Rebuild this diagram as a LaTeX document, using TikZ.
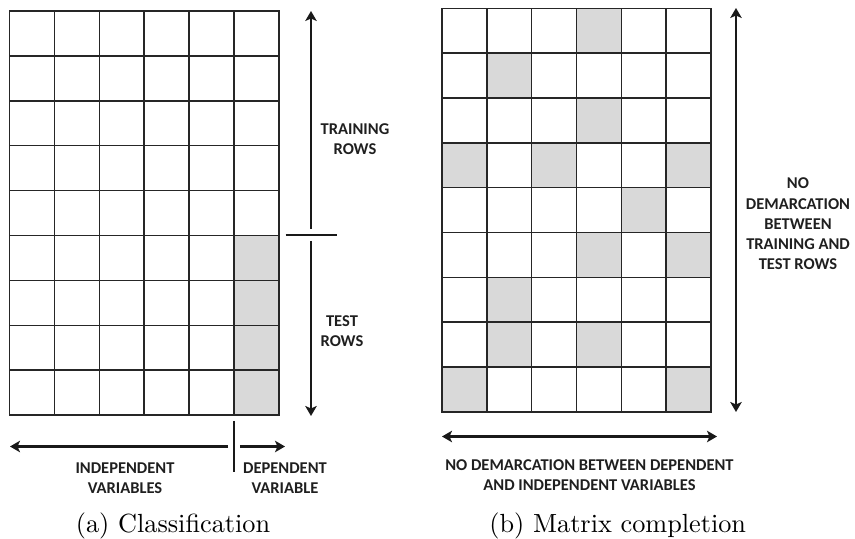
\documentclass[tikz,border=0pt]{standalone}
\usepackage{fontspec}
\newfontfamily\lblfont{Carlito}
\usetikzlibrary{arrows.meta}

\tikzset{
  cellbox/.style={draw=black!85, line width=0.6pt},
  hit/.style={fill=gray!30},
  bar/.style={line width=0.85pt, black!90},
  tip/.style={-{Stealth[length=4pt,width=4.6pt,inset=1pt]}},
  bothtips/.style={{Stealth[length=4pt,width=4.6pt,inset=1pt]}-{Stealth[length=4pt,width=4.6pt,inset=1pt]}},
  lbl/.style={font=\lblfont\bfseries\fontsize{6.6}{8.1}\selectfont, align=center, text=black!88, inner sep=0pt},
  subcap/.style={font=\fontsize{10.5}{12}\selectfont, inner sep=0pt},
}

\begin{document}
\begin{tikzpicture}[x=0.4pt, y=-0.4pt]

\useasboundingbox (0,0) rectangle (855,539);

\def\cw{44.9}
\def\cwb{44.83}

%% --- (a) classification grid ---
\foreach \r in {5,...,8} {
  \fill[hit] ({9.5+5*\cw},{11+\r*\cw}) rectangle +(\cw,\cw);
}
\foreach \r in {0,...,8} \foreach \c in {0,...,5} {
  \draw[cellbox] ({9.5+\c*\cw},{11+\r*\cw}) rectangle +(\cw,\cw);
}

% row arrows
\coordinate (trtop) at (311,11);
\coordinate (trbot) at (311,229);
\coordinate (tstop) at (311,241);
\coordinate (tsbot) at (311,416);
\coordinate (rowcutL) at (285.5,235);
\coordinate (rowcutR) at (336.5,235);
\draw[bar, tip] (trbot) -- (trtop);
\draw[bar, tip] (tstop) -- (tsbot);
\draw[bar] (rowcutL) -- (rowcutR);
\node[lbl] (trainlbl) at (355,139) {TRAINING\\ROWS};
\node[lbl] (testlbl) at (342,331) {TEST\\ROWS};

% column arrows
\coordinate (indL) at (10,446.5);
\coordinate (indR) at (228,446.5);
\coordinate (depL) at (240,446.5);
\coordinate (depR) at (285,446.5);
\coordinate (colcutT) at (234,421);
\coordinate (colcutB) at (234,472);
\draw[bar, tip] (indR) -- (indL);
\draw[bar, tip] (depL) -- (depR);
\draw[bar] (colcutT) -- (colcutB);
\node[lbl] (indlbl) at (125,478) {INDEPENDENT\\VARIABLES};
\node[lbl] (deplbl) at (285,478) {DEPENDENT\\VARIABLE};

\node[subcap] (capa) at (173,526) {(a) Classification};

%% --- (b) matrix completion grid ---
\foreach \r/\c in {0/3,1/1,2/3,3/0,3/2,3/5,4/4,5/3,5/5,6/1,7/1,7/3,8/0,8/5} {
  \fill[hit] ({442+\c*\cwb},{8.3+\r*\cwb}) rectangle +(\cwb,\cwb);
}
\foreach \r in {0,...,8} \foreach \c in {0,...,5} {
  \draw[cellbox] ({442+\c*\cwb},{8.3+\r*\cwb}) rectangle +(\cwb,\cwb);
}

\coordinate (alltop) at (736,8);
\coordinate (allbot) at (736,412);
\draw[bar, bothtips] (alltop) -- (allbot);
\node[lbl] (nodemrow) at (798,224) {NO\\DEMARCATION\\BETWEEN\\TRAINING AND\\TEST ROWS};

\coordinate (allL) at (442,436.5);
\coordinate (allR) at (717,436.5);
\draw[bar, bothtips] (allL) -- (allR);
\node[lbl] (nodemcol) at (589.5,475.5) {NO DEMARCATION BETWEEN DEPENDENT\\AND INDEPENDENT VARIABLES};

\node[subcap] (capb) at (617.7,526) {(b) Matrix completion};

\end{tikzpicture}
\end{document}
